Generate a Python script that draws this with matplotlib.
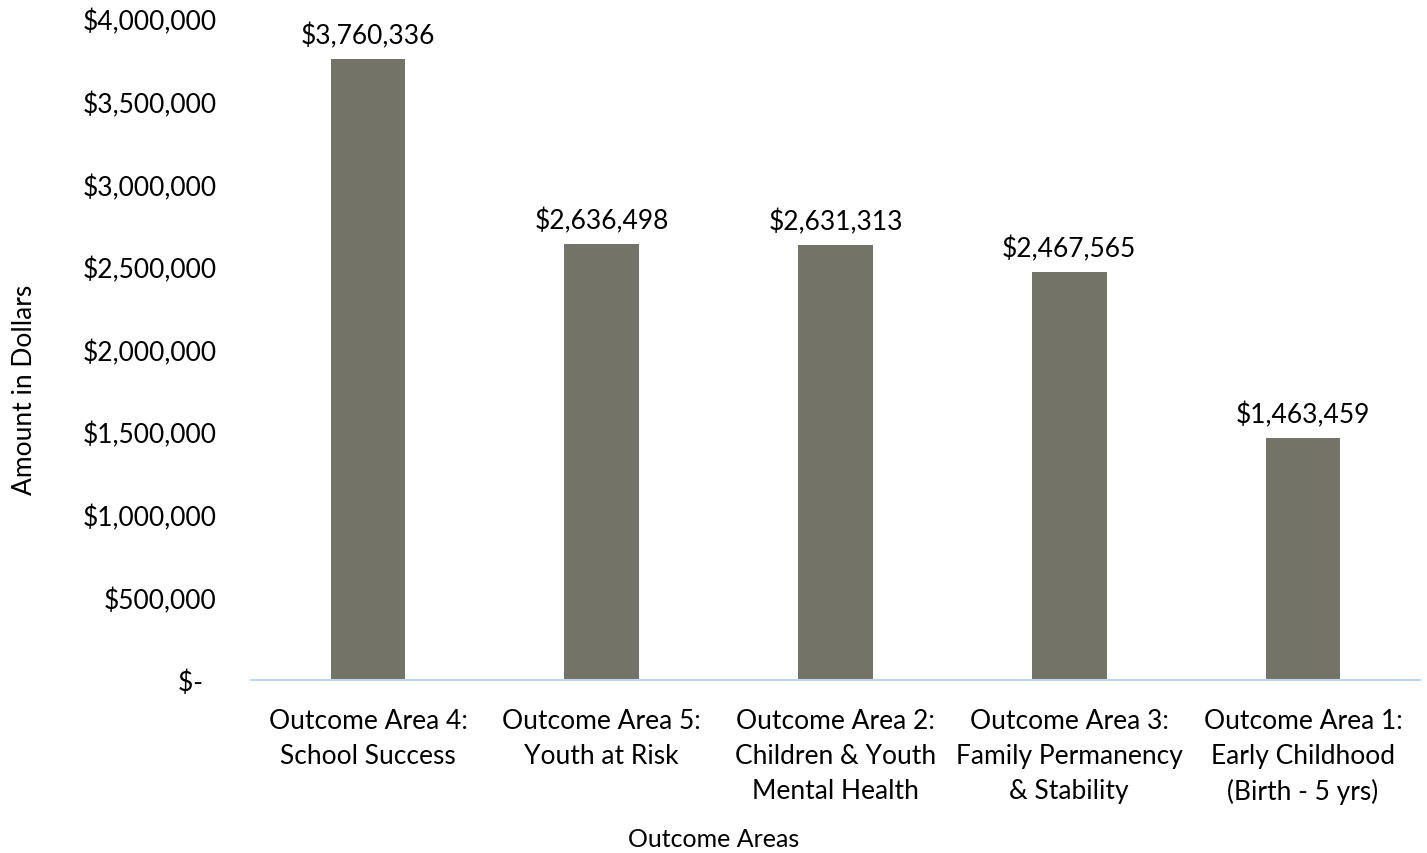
import matplotlib.pyplot as plt
from matplotlib.ticker import FuncFormatter

plt.rcParams['font.family'] = ['Lato', 'DejaVu Sans']

areas = ['Outcome Area 4:\nSchool Success',
         'Outcome Area 5:\nYouth at Risk',
         'Outcome Area 2:\nChildren & Youth\nMental Health',
         'Outcome Area 3:\nFamily Permanency\n& Stability',
         'Outcome Area 1:\nEarly Childhood\n(Birth - 5 yrs)']
amounts = [3760336, 2636498, 2631313, 2467565, 1463459]


def dollars(v, pos):
    # accounting style: zero shows as a dash, padded on the right
    if v == 0:
        return '$-  '
    return '${:,.0f}'.format(v)


fig = plt.figure(figsize=(14.27, 8.54), dpi=100)
ax = fig.add_axes([0.176, 0.2026, 0.819, 0.774])

x = range(len(areas))
bars = ax.bar(x, amounts, width=0.32, color='#737368')
for b, v in zip(bars, amounts):
    ax.text(b.get_x() + b.get_width() / 2, v + 65000, '${:,.0f}'.format(v),
            ha='center', va='bottom', fontsize=19)

ax.set_xlim(-0.5, len(areas) - 0.5)
ax.set_ylim(0, 4000000)
ax.set_yticks(range(0, 4000001, 500000))
ax.yaxis.set_major_formatter(FuncFormatter(dollars))
ax.set_xticks(list(x))
ax.set_xticklabels(areas, fontsize=19, linespacing=1.5)
ax.tick_params(axis='y', labelsize=19, length=0, pad=25)
ax.tick_params(axis='x', length=0, pad=20)

for s in ['top', 'right', 'left']:
    ax.spines[s].set_visible(False)
ax.spines['bottom'].set_color('#BDD7EE')
ax.spines['bottom'].set_linewidth(1.5)

ax.set_ylabel('Amount in Dollars', fontsize=19)
ax.yaxis.set_label_coords(-0.183, 0.441)
ax.set_xlabel('Outcome Areas', fontsize=18)
ax.xaxis.set_label_coords(0.396, -0.222)

fig.savefig('out.png')
